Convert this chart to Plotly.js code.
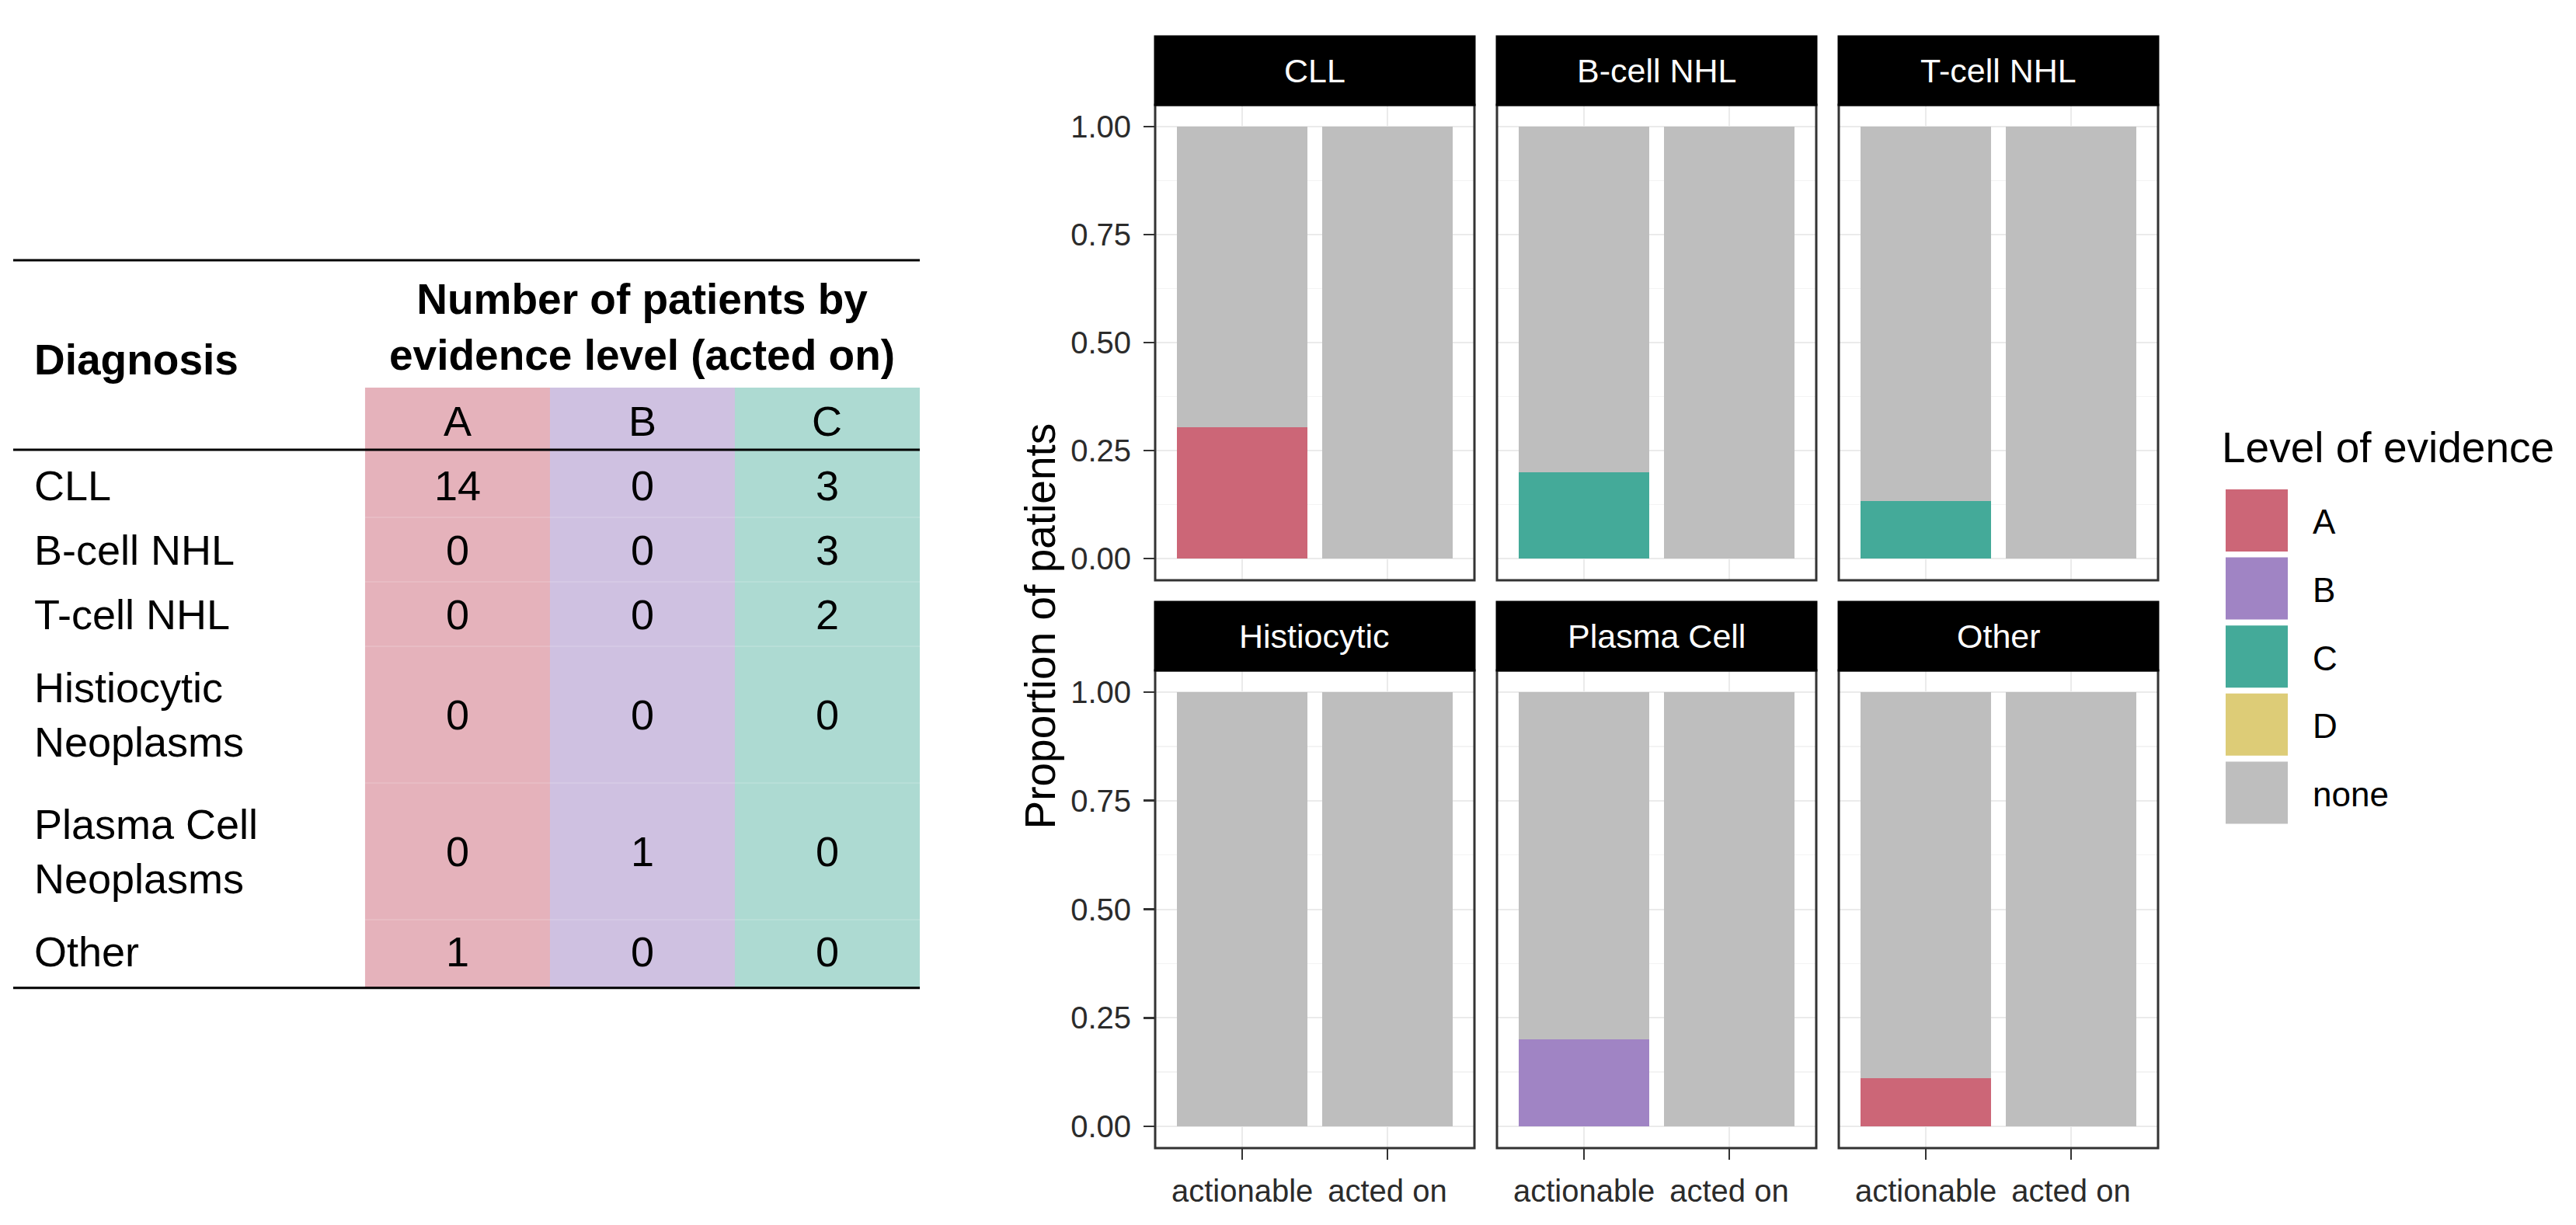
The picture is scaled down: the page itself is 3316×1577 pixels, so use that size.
<!DOCTYPE html>
<html>
<head>
<meta charset="utf-8">
<script src="https://cdn.plot.ly/plotly-3.0.1.min.js"></script>
<style>
html,body{margin:0;padding:0;background:#fff;}
#chart{width:3316px;height:1577px;}
</style>
</head>
<body>
<div id="chart"></div>
<script>
// ---------------- DATA ----------------
const facets = ['CLL', 'B-cell NHL', 'T-cell NHL', 'Histiocytic', 'Plasma Cell', 'Other'];
const stages = ['actionable', 'acted on'];
const levels = ['A', 'B', 'C', 'D', 'none'];
const levelColors = ['#CC6677', '#A084C4', '#44AA99', '#DDCC77', '#BEBEBE'];
// proportion of patients per facet: [actionable, acted on]
const propA    = [[0.304, 0], [0, 0],   [0, 0],     [0, 0], [0, 0],   [0.111, 0]];
const propB    = [[0, 0],     [0, 0],   [0, 0],     [0, 0], [0.20, 0], [0, 0]];
const propC    = [[0, 0],     [0.20, 0], [0.133, 0], [0, 0], [0, 0],   [0, 0]];
const propD    = [[0, 0],     [0, 0],   [0, 0],     [0, 0], [0, 0],   [0, 0]];
const propNone = [[0.696, 1], [0.80, 1], [0.867, 1], [1, 1], [0.80, 1], [0.889, 1]];
const yTickVals = [0, 0.25, 0.5, 0.75, 1];
const yTickLabels = ['0.00', '0.25', '0.50', '0.75', '1.00'];
const yAxisTitle = 'Proportion of patients';
const legendTitle = 'Level of evidence';

// table
const tableTitle = 'Number of patients by<br>evidence level (acted on)';
const tableRowHeader = 'Diagnosis';
const tableDiagnoses = ['CLL', 'B-cell NHL', 'T-cell NHL', 'Histiocytic<br>Neoplasms', 'Plasma Cell<br>Neoplasms', 'Other'];
const tableLevels = ['A', 'B', 'C'];
const actedA = [14, 0, 0, 0, 0, 1];
const actedB = [0, 0, 0, 0, 1, 0];
const actedC = [3, 3, 2, 0, 0, 0];

// ---------------- BUILD ----------------
const W = 3316, H = 1577;
const FONT = 'Liberation Sans, Arial, Helvetica, sans-serif';
const levelProps = [propA, propB, propC, propD, propNone];
const tableCounts = [actedA, actedB, actedC];
const tableBand = ['rgba(204,102,119,0.5)', 'rgba(160,132,196,0.5)', 'rgba(68,170,153,0.44)'];

const colPx = [[1487, 1898], [1927, 2338], [2367, 2778]];
const rowPx = [[135, 747], [863, 1478]];
const stripPx = 88;

const traces = [];
const layout = {
  width: W, height: H,
  margin: {l: 0, r: 0, t: 0, b: 0, pad: 0},
  paper_bgcolor: '#ffffff', plot_bgcolor: '#ffffff',
  barmode: 'stack',
  showlegend: false,
  font: {family: FONT, color: '#000'},
  shapes: [], annotations: []
};

facets.forEach((f, i) => {
  const n = i + 1, sfx = n === 1 ? '' : String(n);
  const col = i % 3, row = Math.floor(i / 3);
  const xd = [colPx[col][0] / W, colPx[col][1] / W];
  const yd = [1 - rowPx[row][1] / H, 1 - rowPx[row][0] / H];
  const rowH = rowPx[row][1] - rowPx[row][0];
  levels.forEach((lv, k) => {
    traces.push({
      type: 'bar', x: stages, y: levelProps[k][i],
      xaxis: 'x' + sfx, yaxis: 'y' + sfx,
      name: lv, width: 0.9,
      marker: {color: levelColors[k], line: {width: 0}},
      showlegend: false, hoverinfo: 'skip'
    });
  });
  layout['xaxis' + sfx] = {
    domain: xd, anchor: 'y' + sfx, type: 'category', categoryorder: 'array', categoryarray: stages,
    range: [-0.6, 1.6], fixedrange: true,
    showgrid: true, gridcolor: '#EBEBEB', gridwidth: 2, zeroline: false, showline: false,
    ticks: row === 1 ? 'outside' : '', ticklen: 14, tickwidth: 2.5, tickcolor: '#333333',
    showticklabels: row === 1, ticklabelstandoff: 6,
    tickfont: {family: FONT, size: 40, color: '#2b2b2b'}
  };
  layout['yaxis' + sfx] = {
    domain: yd, anchor: 'x' + sfx, range: [-0.05, 1.05], fixedrange: true,
    tickmode: 'array', tickvals: yTickVals, ticktext: yTickLabels,
    showgrid: true, gridcolor: '#EBEBEB', gridwidth: 2, zeroline: false, showline: false,
    minor: {tickmode: 'array', tickvals: [0.125, 0.375, 0.625, 0.875], showgrid: true, gridcolor: '#F3F3F3', gridwidth: 1.5, ticks: ''},
    ticks: col === 0 ? 'outside' : '', ticklen: 14, tickwidth: 2.5, tickcolor: '#333333',
    showticklabels: col === 0, ticklabelstandoff: 8,
    tickfont: {family: FONT, size: 40, color: '#2b2b2b'}
  };
  const sf = stripPx / rowH;
  // panel border
  layout.shapes.push({type: 'rect', xref: 'x' + sfx + ' domain', yref: 'y' + sfx + ' domain',
    x0: 0, x1: 1, y0: 0, y1: 1, line: {color: '#333333', width: 3}, layer: 'above'});
  // strip
  layout.shapes.push({type: 'rect', xref: 'x' + sfx + ' domain', yref: 'y' + sfx + ' domain',
    x0: 0, x1: 1, y0: 1, y1: 1 + sf, fillcolor: '#000000', line: {color: '#000000', width: 3}, layer: 'above'});
  layout.annotations.push({xref: 'x' + sfx + ' domain', yref: 'y' + sfx + ' domain',
    x: 0.5, y: 1 + sf / 2, xanchor: 'center', yanchor: 'middle', showarrow: false,
    text: f, font: {family: FONT, size: 43, color: '#ffffff'}});
});

// shared y-axis title
layout.annotations.push({xref: 'paper', yref: 'paper', x: 1338 / W, y: 1 - ((rowPx[0][0] + rowPx[1][1]) / 2) / H,
  xanchor: 'center', yanchor: 'middle', textangle: -90, showarrow: false,
  text: yAxisTitle, font: {family: FONT, size: 55, color: '#000'}});

// custom legend (big keys like ggplot)
layout.annotations.push({xref: 'paper', yref: 'paper', x: 2858 / W, y: 1 - 576 / H,
  xanchor: 'left', yanchor: 'middle', showarrow: false,
  text: legendTitle, font: {family: FONT, size: 55, color: '#000'}});
levels.forEach((lv, k) => {
  const top = 630 + k * 87.6;
  layout.shapes.push({type: 'rect', xref: 'paper', yref: 'paper',
    x0: 2865 / W, x1: 2945 / W, y0: 1 - (top + 80) / H, y1: 1 - top / H,
    fillcolor: levelColors[k], line: {width: 0}});
  layout.annotations.push({xref: 'paper', yref: 'paper', x: 2975 / W, y: 1 - (top + 42) / H,
    xanchor: 'left', yanchor: 'middle', showarrow: false,
    text: lv, font: {family: FONT, size: 44, color: '#000'}});
});

// ---------------- TABLE (hidden axis x7/y7) ----------------
// x: column units (A=1, B=2, C=3); y: row units (reversed)
const tX0 = -1.403, tX1 = 3.5;
const tY0 = -3, tY1 = 8.4;
layout.xaxis7 = {domain: [17 / W, 1184 / W], range: [tX0, tX1], anchor: 'y7', visible: false, fixedrange: true};
layout.yaxis7 = {domain: [1 - 1276 / H, 1 - 330 / H], range: [tY1, tY0], anchor: 'x7', visible: false, fixedrange: true};
traces.push({type: 'scatter', x: [], y: [], xaxis: 'x7', yaxis: 'y7', showlegend: false, hoverinfo: 'skip'});

// compute row centres from number of text lines
const rowCentres = [], rowBounds = [];
let cur = 0.05;
tableDiagnoses.forEach(d => {
  const lines = d.split('<br>').length;
  const h = lines === 2 ? 2.12 : 1;
  rowCentres.push(cur + h / 2);
  cur += h;
  rowBounds.push(cur);
});
const tableBottom = cur + 0.06;
const bandTop = -0.964, topLine = -2.94, levelRowY = -0.446;

tableLevels.forEach((lv, c) => {
  layout.shapes.push({type: 'rect', xref: 'x7', yref: 'y7', x0: c + 0.5, x1: c + 1.5, y0: bandTop, y1: tableBottom,
    fillcolor: tableBand[c], line: {width: 0}, layer: 'below'});
  layout.annotations.push({xref: 'x7', yref: 'y7', x: c + 1, y: levelRowY, xanchor: 'center', yanchor: 'middle',
    showarrow: false, text: lv, font: {family: FONT, size: 54, color: '#000'}});
  tableCounts[c].forEach((v, r) => {
    layout.annotations.push({xref: 'x7', yref: 'y7', x: c + 1, y: rowCentres[r], xanchor: 'center', yanchor: 'middle',
      showarrow: false, text: String(v), font: {family: FONT, size: 54, color: '#000'}});
  });
});
// faint row separators inside the coloured band
rowBounds.slice(0, -1).forEach(b => {
  layout.shapes.push({type: 'line', xref: 'x7', yref: 'y7', x0: 0.5, x1: 3.5, y0: b, y1: b,
    line: {color: 'rgba(255,255,255,0.14)', width: 2}, layer: 'below'});
});
tableDiagnoses.forEach((d, r) => {
  layout.annotations.push({xref: 'x7', yref: 'y7', x: -1.298, y: rowCentres[r], xanchor: 'left', yanchor: 'middle',
    align: 'left', showarrow: false, text: d, font: {family: FONT, size: 54, color: '#000'}});
});
// rules
[topLine, 0, tableBottom].forEach(yv => {
  layout.shapes.push({type: 'line', xref: 'x7', yref: 'y7', x0: tX0, x1: tX1, y0: yv, y1: yv,
    line: {color: '#000000', width: 3}});
});
layout.annotations.push({xref: 'x7', yref: 'y7', x: -1.298, y: -1.40, xanchor: 'left', yanchor: 'middle',
  showarrow: false, text: '<b>' + tableRowHeader + '</b>', font: {family: FONT, size: 55, color: '#000'}});
layout.annotations.push({xref: 'x7', yref: 'y7', x: 2, y: -1.904, xanchor: 'center', yanchor: 'middle',
  align: 'center', showarrow: false, text: '<b>' + tableTitle + '</b>', font: {family: FONT, size: 55, color: '#000'}});

Plotly.newPlot('chart', traces, layout, {displayModeBar: false, staticPlot: true});
</script>
</body>
</html>
